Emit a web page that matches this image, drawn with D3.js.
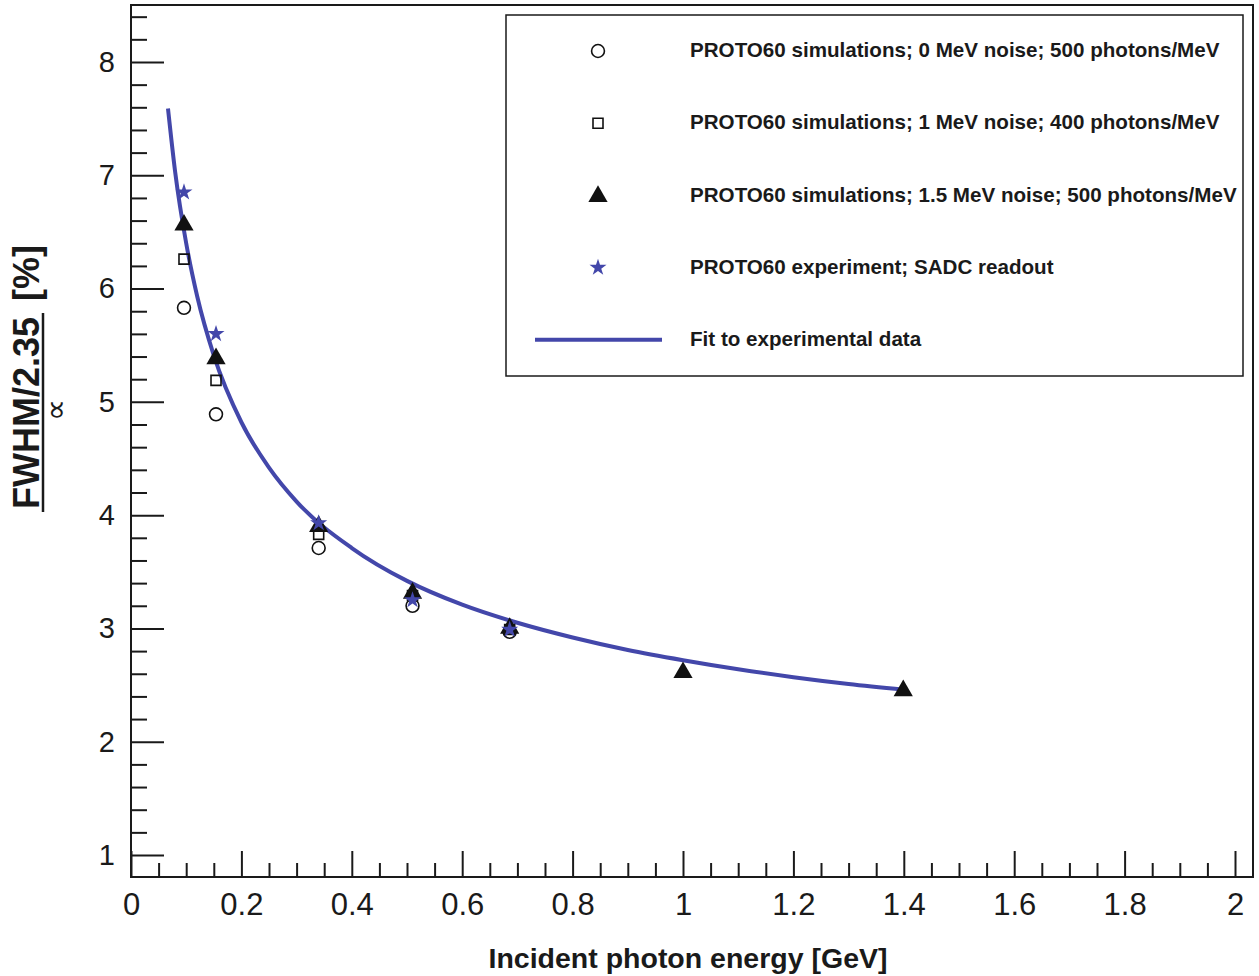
<!DOCTYPE html>
<html><head><meta charset="utf-8">
<script src="https://cdn.jsdelivr.net/npm/d3@7"></script>
<style>body{margin:0;background:#fff}svg{display:block;font-family:"Liberation Sans",Arial,sans-serif}</style>
</head><body>
<svg id="c" width="1259" height="976"></svg>
<script>
// ---- data ----
const energies = [0.096, 0.154, 0.340, 0.510, 0.686];
const sim0MeV = [5.83, 4.89, 3.71, 3.20, 2.97];
const sim1MeV = [6.26, 5.19, 3.83, 3.29, 2.99];
const energiesTri = [0.096, 0.154, 0.340, 0.510, 0.686, 1.0, 1.399];
const sim15MeV = [6.57, 5.39, 3.91, 3.32, 3.01, 2.62, 2.46];
const experiment = [6.85, 5.60, 3.93, 3.25, 2.99];
const fitE = [0.067, 0.08, 0.1, 0.12, 0.15, 0.2, 0.25, 0.3, 0.4, 0.5, 0.6, 0.7, 0.8, 0.9, 1.0, 1.1, 1.2, 1.3, 1.4];
const fitV = [7.59, 7.03, 6.40, 5.93, 5.41, 4.82, 4.42, 4.12, 3.71, 3.42, 3.21, 3.05, 2.92, 2.81, 2.72, 2.64, 2.57, 2.51, 2.46];
const xTicks = [0, 0.2, 0.4, 0.6, 0.8, 1, 1.2, 1.4, 1.6, 1.8, 2];
const yTicks = [1, 2, 3, 4, 5, 6, 7, 8];
const legendLabels = [
  "PROTO60 simulations; 0 MeV noise; 500 photons/MeV",
  "PROTO60 simulations; 1 MeV noise; 400 photons/MeV",
  "PROTO60 simulations; 1.5 MeV noise; 500 photons/MeV",
  "PROTO60 experiment; SADC readout",
  "Fit to experimental data"
];
const xTitle = "Incident photon energy [GeV]";

// ---- layout ----
const svg = d3.select("#c");
const L = 131, R = 1253, T = 5, B = 877;
const x = d3.scaleLinear().domain([0, 2.0326]).range([L, R]);
const y = d3.scaleLinear().domain([0.806, 8.503]).range([B, T]);
const blue = "#4347aa";

// frame
svg.append("rect").attr("x", L).attr("y", T).attr("width", R - L).attr("height", B - T)
  .attr("fill", "none").attr("stroke", "#1a1a1a").attr("stroke-width", 2);

// x axis
const xMinor = d3.range(0, 2.0001, 0.05).filter(v => Math.abs(v * 5 - Math.round(v * 5)) > 1e-6);
const xAx = svg.append("g").attr("transform", `translate(0,${B})`);
xAx.call(d3.axisBottom(x).tickValues(xTicks).tickSize(-26).tickFormat(d3.format("~g")));
xAx.append("g").call(d3.axisBottom(x).tickValues(xMinor).tickSize(-14).tickFormat(""));
xAx.selectAll(".domain").remove();
xAx.selectAll("line").attr("stroke", "#1a1a1a").attr("stroke-width", 2);
xAx.selectAll("text").attr("font-size", 31).attr("fill", "#1a1a1a").attr("dy", "0.71em").attr("y", 16);

// y axis
const yMinor = d3.range(1, 8.5, 0.2).filter(v => Math.abs(v - Math.round(v)) > 1e-6);
const yAx = svg.append("g").attr("transform", `translate(${L},0)`);
yAx.call(d3.axisLeft(y).tickValues(yTicks).tickSize(-33).tickFormat(d3.format("d")));
yAx.append("g").call(d3.axisLeft(y).tickValues(yMinor).tickSize(-16).tickFormat(""));
yAx.selectAll(".domain").remove();
yAx.selectAll("line").attr("stroke", "#1a1a1a").attr("stroke-width", 2);
yAx.selectAll("text").attr("font-size", 29).attr("fill", "#1a1a1a").attr("x", -16);

// fit curve
const fit = fitE.map((e, i) => [e, fitV[i]]);
svg.append("path").datum(fit)
  .attr("d", d3.line().x(d => x(d[0])).y(d => y(d[1])).curve(d3.curveMonotoneX))
  .attr("fill", "none").attr("stroke", blue).attr("stroke-width", 4);

// markers
const sym = {
  circle: d3.symbol().type(d3.symbolCircle).size(130),
  square: d3.symbol().type(d3.symbolSquare).size(100),
  triangle: d3.symbol().type(d3.symbolTriangle).size(160),
  star: d3.symbol().type(d3.symbolStar).size(90)
};
function drawMarker(g, kind, cx, cy) {
  const p = g.append("path").attr("d", sym[kind]()).attr("transform", `translate(${cx},${cy})`);
  if (kind === "circle" || kind === "square") p.attr("fill", "none").attr("stroke", "#111").attr("stroke-width", 1.6);
  else if (kind === "triangle") p.attr("fill", "#111");
  else p.attr("fill", blue);
}
const pts = svg.append("g");
energies.forEach((e, i) => drawMarker(pts, "circle", x(e), y(sim0MeV[i])));
energies.forEach((e, i) => drawMarker(pts, "square", x(e), y(sim1MeV[i])));
energiesTri.forEach((e, i) => drawMarker(pts, "triangle", x(e), y(sim15MeV[i]) + 1));
energies.forEach((e, i) => drawMarker(pts, "star", x(e), y(experiment[i])));

// legend
const lg = svg.append("g");
lg.append("rect").attr("x", 506).attr("y", 15).attr("width", 737).attr("height", 361)
  .attr("fill", "#fff").attr("stroke", "#1a1a1a").attr("stroke-width", 1.5);
const kinds = ["circle", "square", "triangle", "star", "line"];
legendLabels.forEach((t, i) => {
  const cy = 50 + i * 72.2;
  if (kinds[i] === "line") {
    lg.append("line").attr("x1", 535).attr("x2", 662).attr("y1", cy + 1).attr("y2", cy + 1)
      .attr("stroke", blue).attr("stroke-width", 4);
  } else {
    drawMarker(lg, kinds[i], 598, cy + (kinds[i] === "triangle" ? 2 : 1));
  }
  lg.append("text").attr("x", 690).attr("y", cy).attr("dy", "0.35em")
    .attr("font-size", 20.6).attr("font-weight", "bold").attr("fill", "#1a1a1a").text(t);
});

// x title
svg.append("text").attr("x", 688).attr("y", 958).attr("dy", "0.35em").attr("text-anchor", "middle")
  .attr("font-size", 28.5).attr("font-weight", "bold").attr("fill", "#1a1a1a").text(xTitle);

// y title: fraction FWHM/2.35 over ∝, then [%]
const yt = svg.append("g");
yt.append("text").attr("transform", "translate(39,413) rotate(-90)").attr("text-anchor", "middle")
  .attr("font-size", 36).attr("font-weight", "bold").attr("fill", "#1a1a1a").text("FWHM/2.35");
yt.append("line").attr("x1", 43).attr("x2", 43).attr("y1", 313).attr("y2", 512)
  .attr("stroke", "#1a1a1a").attr("stroke-width", 2.5);
yt.append("text").attr("transform", "translate(66,410) rotate(-90)").attr("text-anchor", "middle")
  .style("font-family", "'DejaVu Sans'").style("font-size", "31px").attr("fill", "#1a1a1a").text("∝");
yt.append("text").attr("transform", "translate(39,273) rotate(-90)").attr("text-anchor", "middle")
  .attr("font-size", 36).attr("font-weight", "bold").attr("fill", "#1a1a1a").text("[%]");
</script>
</body></html>
